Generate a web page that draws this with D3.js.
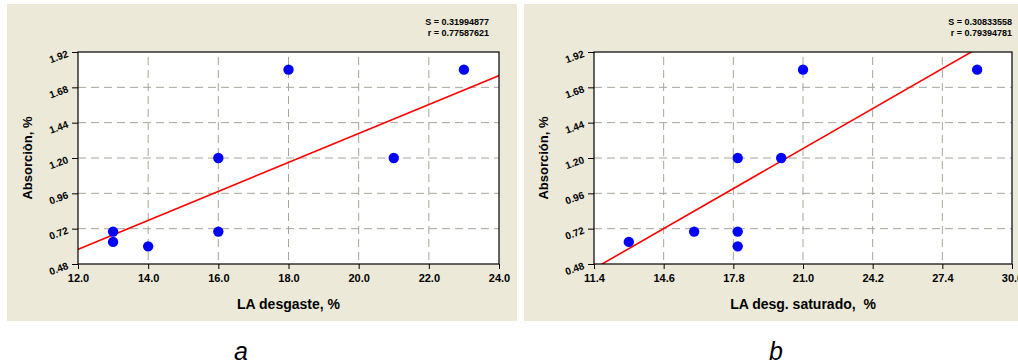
<!DOCTYPE html>
<html>
<head>
<meta charset="utf-8">
<script src="https://cdn.jsdelivr.net/npm/d3@7"></script>
<style>
	body { margin:0; background:#fff; }
	text { font-family: "Liberation Sans", Arial, sans-serif; }
</style>
</head>
<body>
<div id="chart-area"></div>
<script>
// values
const laDesgaste = [13, 13, 14, 16, 16, 18, 21, 23]
const absorcionA = [0.70, 0.63, 0.60, 0.70, 1.20, 1.80, 1.20, 1.80]
const laSaturado = [13.0, 16.0, 18.0, 18.0, 18.0, 20.0, 21.0, 29.0]
const absorcionB = [0.63, 0.70, 0.60, 0.70, 1.20, 1.20, 1.80, 1.80]

// fitted lines, two points each (x, y)
const fitA = [[12.0, 0.58], [24.0, 1.76]]
const fitB = [[11.77, 0.48], [28.73, 1.92]]

const yTicks = [0.48, 0.72, 0.96, 1.20, 1.44, 1.68, 1.92]
const xTicksA = [12.0, 14.0, 16.0, 18.0, 20.0, 22.0, 24.0]
const xTicksB = [11.4, 14.6, 17.8, 21.0, 24.2, 27.4, 30.6]

const statsA = ["S = 0.31994877", "r = 0.77587621"]
const statsB = ["S = 0.30833558", "r = 0.79394781"]

const WIDTH = 1018
const HEIGHT = 364
const BEIGE = "#ece9d8"
const GRID = "#a8a498"

const svg = d3.select("#chart-area").append("svg")
	.attr("width", WIDTH)
	.attr("height", HEIGHT)

svg.append("rect").attr("width", WIDTH).attr("height", HEIGHT).attr("fill", "#fff")

function drawPanel(p){
	svg.append("rect")
		.attr("x", p.panel[0]).attr("y", 4)
		.attr("width", p.panel[1]).attr("height", 317)
		.attr("fill", BEIGE)

	const x = d3.scaleLinear().domain(d3.extent(p.xTicks)).range([p.left, p.right])
	const y = d3.scaleLinear().domain(d3.extent(yTicks)).range([264, 52])

	const g = svg.append("g")

	// plot area
	g.append("rect")
		.attr("x", p.left).attr("y", 52)
		.attr("width", p.right - p.left).attr("height", 212)
		.attr("fill", "#fff")

	// grid
	g.selectAll(".hgrid").data(yTicks.slice(1, -1)).enter().append("line")
		.attr("x1", p.left).attr("x2", p.right)
		.attr("y1", d => y(d)).attr("y2", d => y(d))
		.attr("stroke", GRID).attr("stroke-dasharray", "8,5")
	g.selectAll(".vgrid").data(p.xTicks.slice(1, -1)).enter().append("line")
		.attr("x1", d => x(d)).attr("x2", d => x(d))
		.attr("y1", 57).attr("y2", 264)
		.attr("stroke", GRID).attr("stroke-dasharray", "8,5")

	// clipped fit line
	const clipId = "clip" + p.name
	svg.append("clipPath").attr("id", clipId)
		.append("rect").attr("x", p.left).attr("y", 52)
		.attr("width", p.right - p.left).attr("height", 212)

	const xs = p.fit.map(d => d[0]), ys = p.fit.map(d => d[1])
	const slope = (ys[1] - ys[0]) / (xs[1] - xs[0])
	const dom = x.domain()
	g.append("line")
		.attr("clip-path", `url(#${clipId})`)
		.attr("x1", x(dom[0] - 1)).attr("y1", y(ys[0] + slope * (dom[0] - 1 - xs[0])))
		.attr("x2", x(dom[1] + 1)).attr("y2", y(ys[0] + slope * (dom[1] + 1 - xs[0])))
		.attr("stroke", "#ff0000").attr("stroke-width", 1.6)

	// points
	g.selectAll("circle").data(p.xs.map((v, i) => [v, p.ys[i]])).enter().append("circle")
		.attr("cx", d => x(d[0])).attr("cy", d => y(d[1]))
		.attr("r", 5.2).attr("fill", "#0000ff")

	// frame
	g.append("rect")
		.attr("x", p.left).attr("y", 52)
		.attr("width", p.right - p.left).attr("height", 212)
		.attr("fill", "none").attr("stroke", "#000").attr("stroke-width", 1.2)

	// axes with minor ticks
	const xStep = p.xTicks[1] - p.xTicks[0]
	const xMinor = d3.range(0, 4 * (p.xTicks.length - 1) + 1).map(i => p.xTicks[0] + i * xStep / 4)
	const yMinor = d3.range(0, 25).map(i => 0.48 + i * 0.06)

	const xAxisGroup = g.append("g").attr("transform", "translate(0,264)")
	xAxisGroup.call(d3.axisBottom(x).tickValues(xMinor).tickSize(3).tickFormat(""))
	xAxisGroup.call(d3.axisBottom(x).tickValues(p.xTicks).tickSize(5).tickFormat(d3.format(".1f")))
	xAxisGroup.selectAll(".domain").remove()
	xAxisGroup.selectAll("text")
		.attr("y", 10)
		.attr("font-size", "11px").attr("font-weight", "bold")
		.attr("fill", "#000")
		.attr("font-family", "Liberation Sans, Arial, sans-serif")

	const yAxisGroup = g.append("g").attr("transform", `translate(${p.left},0)`)
	yAxisGroup.call(d3.axisLeft(y).tickValues(yMinor).tickSize(3).tickFormat(""))
	yAxisGroup.call(d3.axisLeft(y).tickValues(yTicks).tickSize(6).tickFormat(d3.format(".2f")))
	yAxisGroup.selectAll(".domain").remove()
	yAxisGroup.selectAll("text")
		.attr("x", null).attr("dy", null)
		.attr("transform", "translate(-9,4) rotate(-20)")
		.attr("text-anchor", "end")
		.attr("font-size", "10px").attr("font-weight", "bold")
		.attr("fill", "#000")
		.attr("font-family", "Liberation Sans, Arial, sans-serif")

	// titles
	g.append("text")
		.attr("x", (p.left + p.right) / 2).attr("y", 309)
		.attr("text-anchor", "middle")
		.attr("font-size", "14px").attr("font-weight", "bold")
		.style("white-space", "pre")
		.text(p.xTitle)

	g.append("text")
		.attr("transform", `translate(${p.left - 46},158) rotate(-90)`)
		.attr("text-anchor", "middle")
		.attr("font-size", "13px").attr("font-weight", "bold")
		.text(p.yTitle)

	p.stats.forEach((s, i) => {
		g.append("text")
			.attr("x", p.statsX).attr("y", 25 + i * 11)
			.attr("text-anchor", "end")
			.attr("font-size", "9px").attr("font-weight", "bold")
			.text(s)
	})

	svg.append("text")
		.attr("x", p.letterX).attr("y", 360)
		.attr("text-anchor", "middle")
		.attr("font-size", "25px").attr("font-style", "italic")
		.text(p.name)
}

drawPanel({
	name: "a", panel: [7, 510], left: 78, right: 499,
	xs: laDesgaste, ys: absorcionA, fit: fitA, xTicks: xTicksA,
	xTitle: "LA desgaste, %", yTitle: "Absorciòn, %",
	stats: statsA, statsX: 489, letterX: 241
})

drawPanel({
	name: "b", panel: [524, 520], left: 594, right: 1012,
	xs: laSaturado, ys: absorcionB, fit: fitB, xTicks: xTicksB,
	xTitle: "LA desg. saturado,  %", yTitle: "Absorción, %",
	stats: statsB, statsX: 1012, letterX: 776
})
</script>
</body>
</html>
